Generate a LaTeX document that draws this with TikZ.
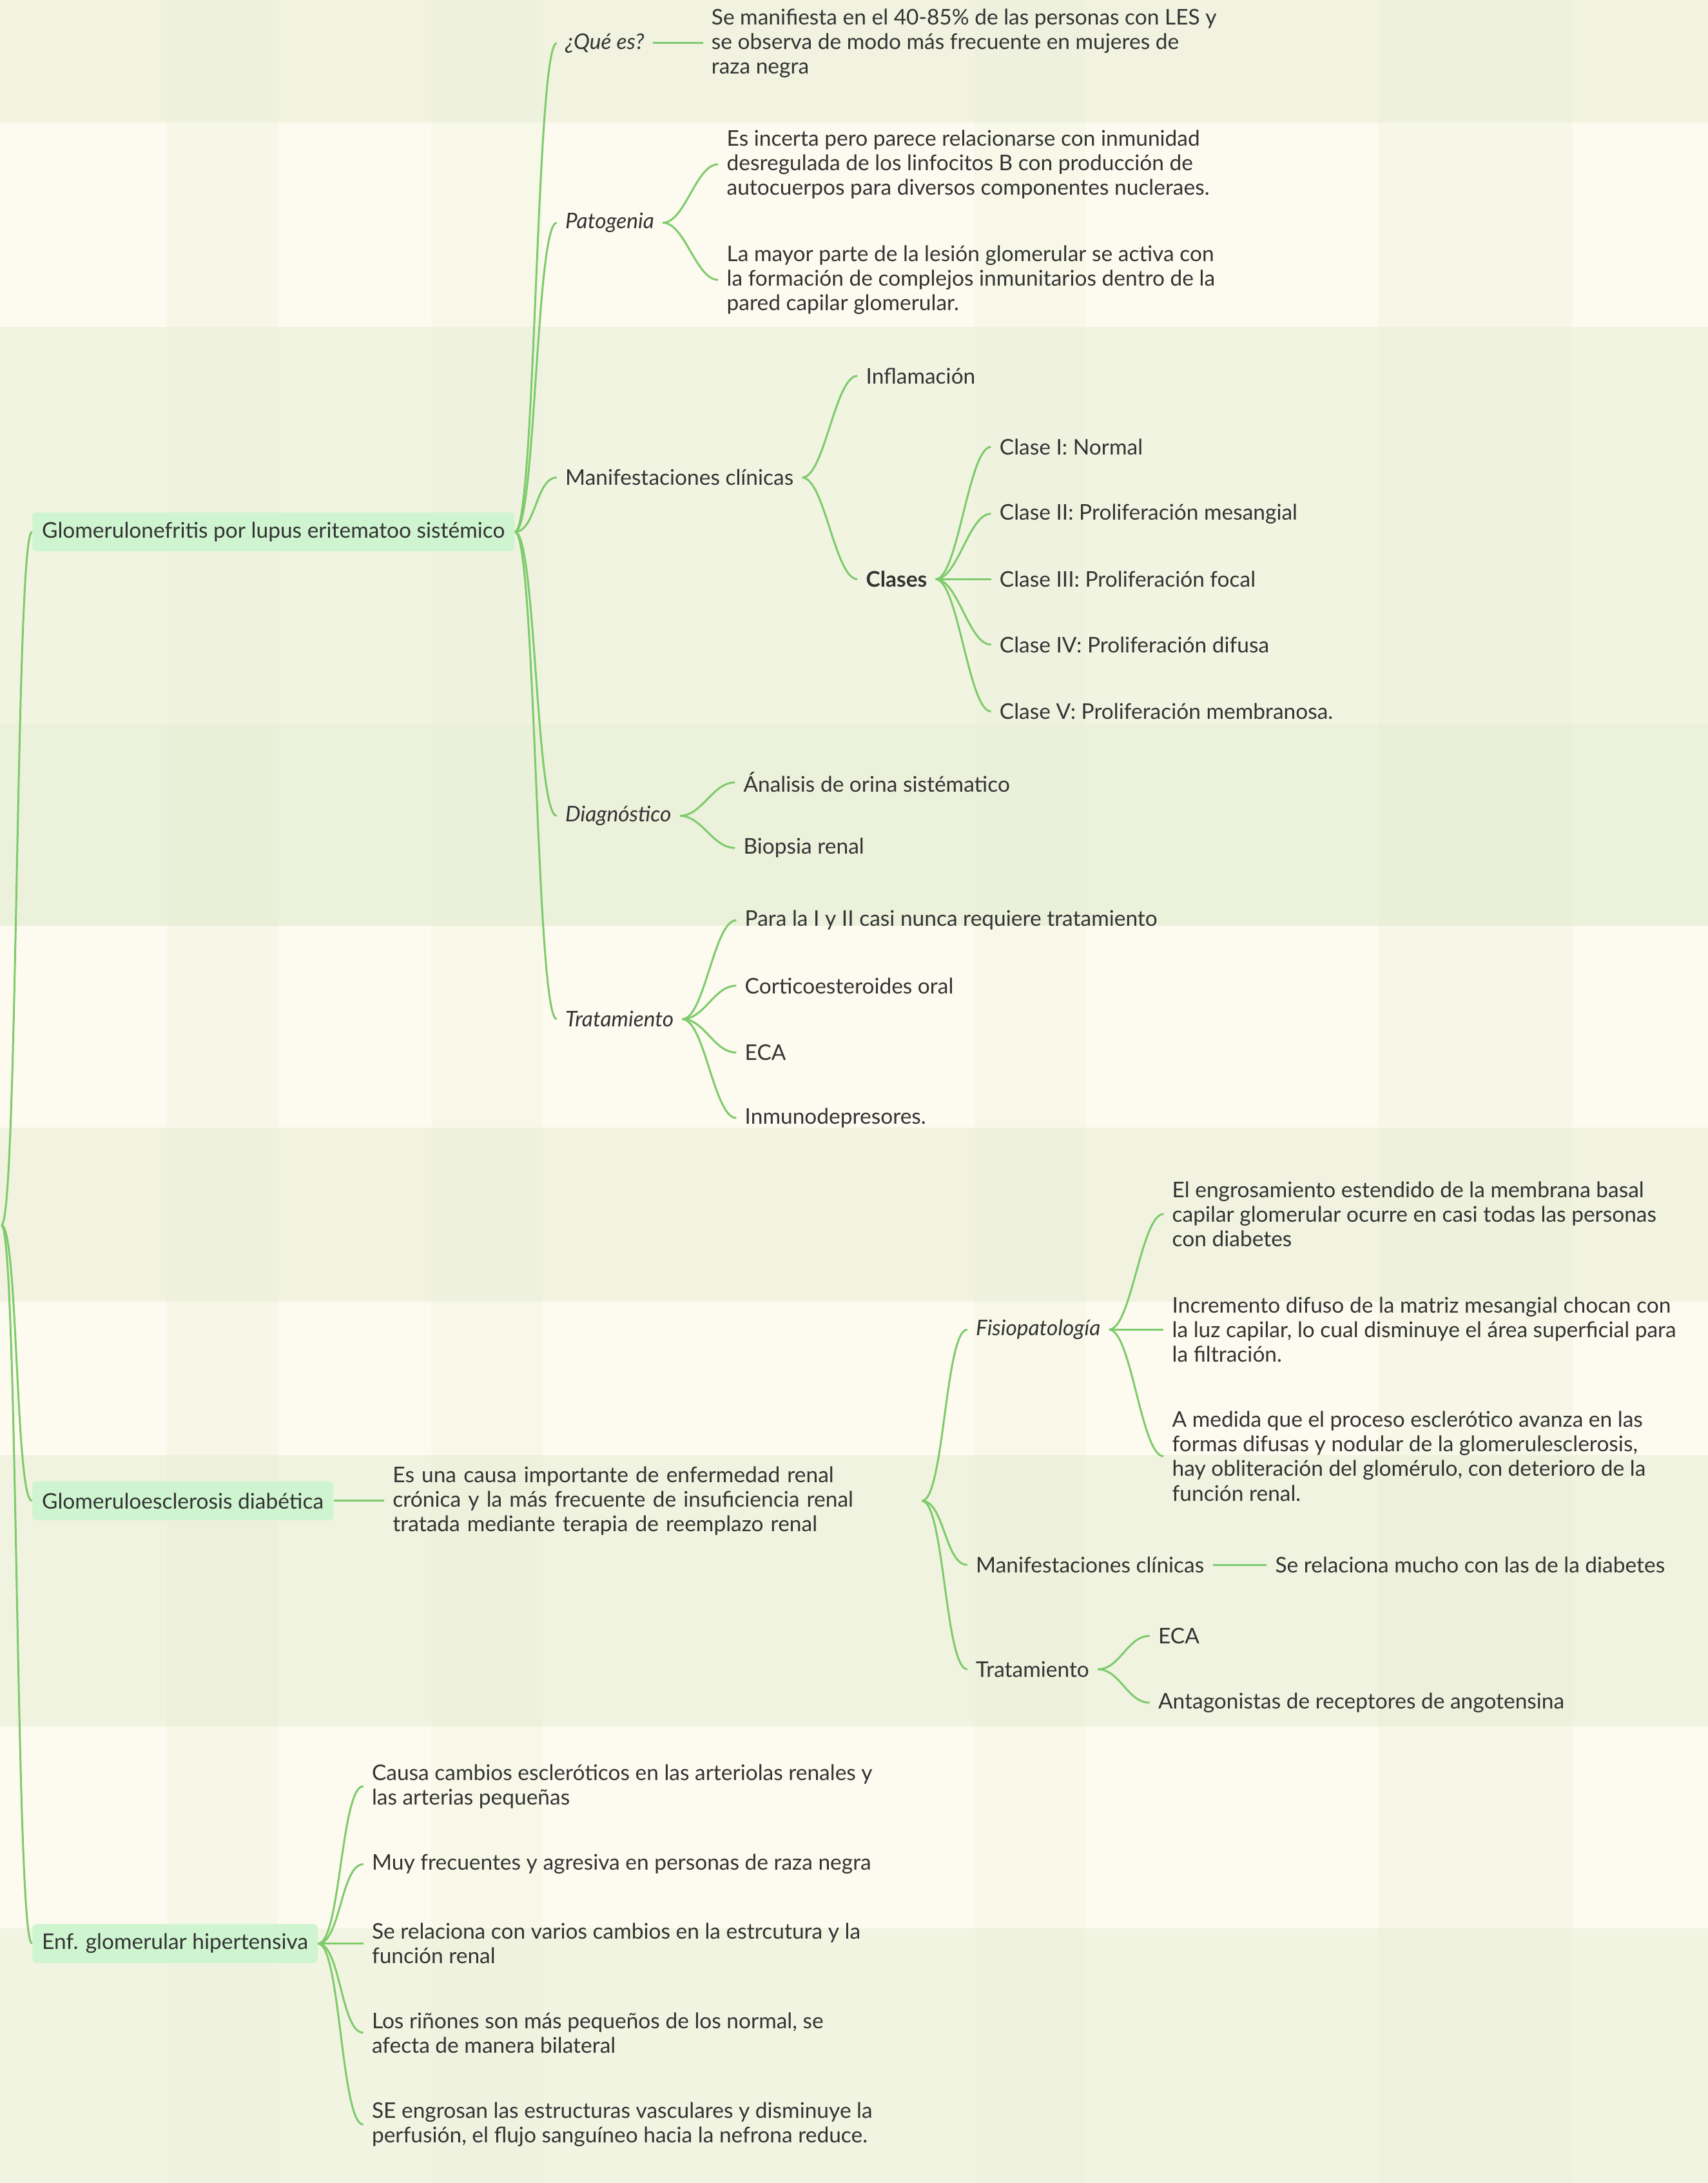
\documentclass[tikz,border=0pt]{standalone}
\usepackage{fontspec}
\setmainfont{Lato}
\definecolor{fondo}{HTML}{FDFBEF}
\definecolor{banda}{HTML}{E6EDD3}
\definecolor{verde}{HTML}{7ECB6C}
\definecolor{caja}{HTML}{CFF5D0}
\definecolor{texto}{HTML}{333333}
\newcommand{\letra}{\fontsize{15.5}{17.6}\selectfont}

\begin{document}
\begin{tikzpicture}[x=1pt,y=-1pt,
    tema/.style={fill=caja, rounded corners=3pt, inner xsep=7pt, minimum height=28pt,
                 anchor=west, text=texto, font=\letra},
    hoja/.style={anchor=west, inner xsep=6pt, inner ysep=0pt, align=left,
                 text=texto, font=\letra},
    cursiva/.style={hoja, font=\letra\itshape},
    rama/.style={draw=verde, line width=1.4pt}]

% --- 1. fondo a cuadros ---
\useasboundingbox (0,0) rectangle (1227,1568);
\fill[fondo] (0,0) rectangle (1227,1568);
\foreach \ya/\yb/\o in {0/88/0.5, 235/520/0.45, 520/665/0.7, 810/935/0.5,
                        1045/1240/0.55, 1385/1568/0.45}
  \fill[banda, opacity=\o] (0,\ya) rectangle (1227,\yb);
\foreach \xa/\xb/\o in {120/200/0.25, 310/390/0.2, 700/780/0.2, 990/1130/0.25}
  \fill[banda, opacity=\o] (\xa,0) rectangle (\xb,1568);

% --- 2. temas principales ---
\coordinate (raiz) at (1,880);
\node[tema] (lupus) at (23,382) {Glomerulonefritis por lupus eritematoo sistémico};
\node[tema] (diab)  at (23,1078) {Glomeruloesclerosis diabética};
\node[tema] (hiper) at (23,1396) {Enf. glomerular hipertensiva};

\foreach \t in {lupus,diab,hiper}
  \draw[rama] (raiz) .. controls +(12,0) and +(-12,0) .. (\t.west);

% --- 3. glomerulonefritis por lupus ---
\node[cursiva] (quees) at (400,31) {¿Qué es?};
\node[hoja] (quees1) at (505,31) {Se manifiesta en el 40-85\% de las personas con LES y\\
  se observa de modo más frecuente en mujeres de\\raza negra};

\node[cursiva] (pato) at (400,160) {Patogenia};
\node[hoja] (pato1) at (516,118) {Es incerta pero parece relacionarse con inmunidad\\
  desregulada de los linfocitos B con producción de\\
  autocuerpos para diversos componentes nucleraes.};
\node[hoja] (pato2) at (516,201) {La mayor parte de la lesión glomerular se activa con\\
  la formación de complejos inmunitarios dentro de la\\
  pared capilar glomerular.};

\node[hoja] (manif) at (400,343) {Manifestaciones clínicas};
\node[hoja] (infla) at (616,270) {Inflamación};
\node[hoja, font=\letra\bfseries] (clases) at (616,416) {Clases};
\node[hoja] (clase1) at (712,321) {Clase I: Normal};
\node[hoja] (clase2) at (712,369) {Clase II: Proliferación mesangial};
\node[hoja] (clase3) at (712,416) {Clase III: Proliferación focal};
\node[hoja] (clase4) at (712,463) {Clase IV: Proliferación difusa};
\node[hoja] (clase5) at (712,511) {Clase V: Proliferación membranosa.};

\node[cursiva] (diag) at (400,586) {Diagnóstico};
\node[hoja] (diag1) at (528,562) {Ánalisis de orina sistématico};
\node[hoja] (diag2) at (528,609) {Biopsia renal};

\node[cursiva] (trat) at (400,732) {Tratamiento};
\node[hoja] (trat1) at (529,661) {Para la I y II casi nunca requiere tratamiento};
\node[hoja] (trat2) at (529,708) {Corticoesteroides oral};
\node[hoja] (trat3) at (529,756) {ECA};
\node[hoja] (trat4) at (529,803) {Inmunodepresores.};

\foreach \t in {quees,pato,manif,diag,trat}
  \draw[rama] (lupus.east) .. controls +(15,0) and +(-15,0) .. (\t.west);
\draw[rama] (quees) -- (quees1);
\foreach \a/\b in {pato/pato1, pato/pato2, manif/infla, manif/clases,
                   clases/clase1, clases/clase2, clases/clase3, clases/clase4, clases/clase5,
                   diag/diag1, diag/diag2,
                   trat/trat1, trat/trat2, trat/trat3, trat/trat4}
  \draw[rama] (\a.east) .. controls +(16,0) and +(-16,0) .. (\b.west);

% --- 4. glomeruloesclerosis diabetica ---
\node[hoja, text width=374pt] (diab1) at (276,1078) {Es una causa importante de enfermedad renal\\
  crónica y la más frecuente de insuficiencia renal\\
  tratada mediante terapia de reemplazo renal};
\draw[rama] (diab) -- (diab1);

\node[cursiva] (fisio) at (695,955) {Fisiopatología};
\node[hoja] (fisio1) at (836,872) {El engrosamiento estendido de la membrana basal\\
  capilar glomerular ocurre en casi todas las personas\\con diabetes};
\node[hoja] (fisio2) at (836,955) {Incremento difuso de la matriz mesangial chocan con\\
  la luz capilar, lo cual disminuye el área superficial para\\la filtración.};
\node[hoja] (fisio3) at (836,1046) {A medida que el proceso esclerótico avanza en las\\
  formas difusas y nodular de la glomerulesclerosis,\\
  hay obliteración del glomérulo, con deterioro de la\\función renal.};

\node[hoja] (mandiab) at (695,1124) {Manifestaciones clínicas};
\node[hoja] (mandiab1) at (910,1124) {Se relaciona mucho con las de la diabetes};
\draw[rama] (mandiab) -- (mandiab1);

\node[hoja] (tratdiab) at (695,1199) {Tratamiento};
\node[hoja] (tratdiab1) at (826,1175) {ECA};
\node[hoja] (tratdiab2) at (826,1223) {Antagonistas de receptores de angotensina};

\foreach \t in {fisio,mandiab,tratdiab}
  \draw[rama] (diab1.east) .. controls +(16,0) and +(-16,0) .. (\t.west);
\foreach \a/\b in {fisio/fisio1, fisio/fisio2, fisio/fisio3,
                   tratdiab/tratdiab1, tratdiab/tratdiab2}
  \draw[rama] (\a.east) .. controls +(16,0) and +(-16,0) .. (\b.west);

% --- 5. enfermedad glomerular hipertensiva ---
\node[hoja] (hiper1) at (261,1283) {Causa cambios escleróticos en las arteriolas renales y\\
  las arterias pequeñas};
\node[hoja] (hiper2) at (261,1339) {Muy frecuentes y agresiva en personas de raza negra};
\node[hoja] (hiper3) at (261,1396) {Se relaciona con varios cambios en la estrcutura y la\\
  función renal};
\node[hoja] (hiper4) at (261,1460) {Los riñones son más pequeños de los normal, se\\
  afecta de manera bilateral};
\node[hoja] (hiper5) at (261,1526) {SE engrosan las estructuras vasculares y disminuye la\\
  perfusión, el flujo sanguíneo hacia la nefrona reduce.};

\foreach \t in {hiper1,hiper2,hiper3,hiper4,hiper5}
  \draw[rama] (hiper.east) .. controls +(16,0) and +(-16,0) .. (\t.west);

\end{tikzpicture}
\end{document}
